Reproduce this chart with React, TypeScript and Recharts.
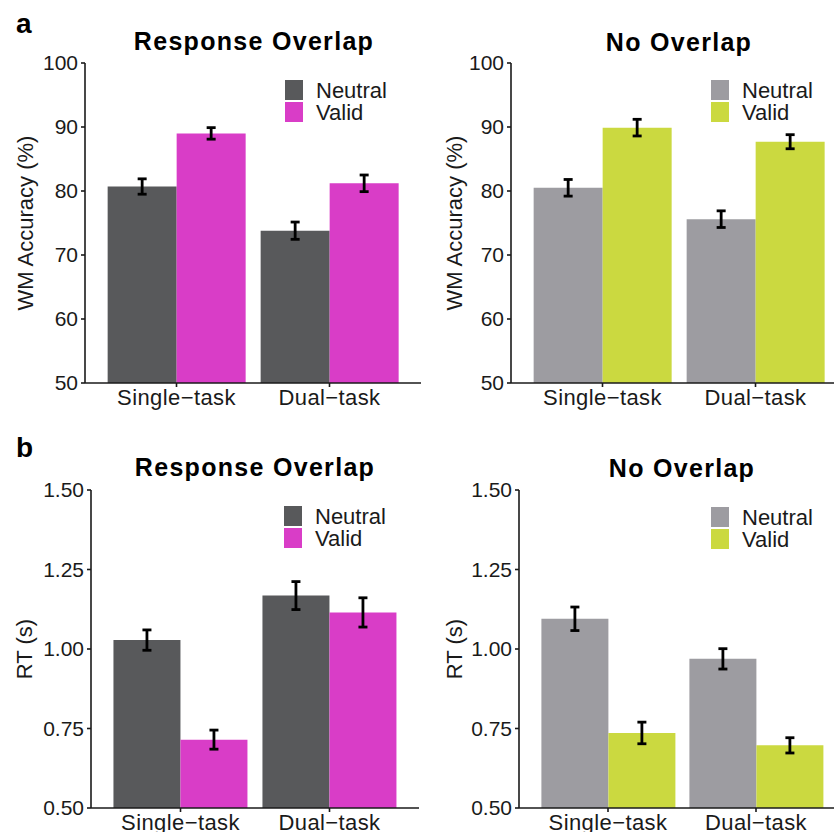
import { BarChart, Bar, XAxis, YAxis, ErrorBar } from 'recharts';

const categories = ['Single\u2212task', 'Dual\u2212task'];

// a: WM accuracy (%)
const accOverlapNeutral = [80.7, 73.8];
const accOverlapNeutralErr = [1.2, 1.35];
const accOverlapValid = [89.0, 81.2];
const accOverlapValidErr = [0.9, 1.3];

const accNoNeutral = [80.5, 75.6];
const accNoNeutralErr = [1.3, 1.3];
const accNoValid = [89.9, 87.7];
const accNoValidErr = [1.3, 1.1];

// b: RT (s)
const rtOverlapNeutral = [1.028, 1.168];
const rtOverlapNeutralErr = [0.032, 0.044];
const rtOverlapValid = [0.715, 1.115];
const rtOverlapValidErr = [0.03, 0.046];

const rtNoNeutral = [1.095, 0.969];
const rtNoNeutralErr = [0.037, 0.032];
const rtNoValid = [0.736, 0.697];
const rtNoValidErr = [0.034, 0.024];

const accTicks = [50, 60, 70, 80, 90, 100];
const rtTicks = [0.5, 0.75, 1.0, 1.25, 1.5];

const FONT = '"Liberation Sans", Arial, Helvetica, sans-serif';
const INK = '#1a1a1a';

const DARK_GREY = '#58595b';
const MAGENTA = '#d93dc7';
const LIGHT_GREY = '#9d9ca1';
const LIME = '#cbd940';

function rows(n: number[], ne: number[], v: number[], ve: number[]) {
  return categories.map((c, i) => ({
    name: c,
    neutral: n[i],
    neutralErr: ne[i],
    valid: v[i],
    validErr: ve[i],
  }));
}

interface PanelProps {
  data: ReturnType<typeof rows>;
  colors: [string, string];
  domain: [number, number];
  ticks: number[];
  fmt: (v: number) => string;
  yLabel: string;
  left: number;
  top: number;
  width: number;
  height: number;
  marginTop: number;
  yWidth: number;
  labelDx: number;
}

function Panel(p: PanelProps) {
  const axisStyle = { stroke: INK, strokeWidth: 1.6 };
  return (
    <div style={{ position: 'absolute', left: p.left, top: p.top }}>
      <BarChart
        width={p.width}
        height={p.height}
        data={p.data}
        margin={{ top: p.marginTop, right: 0, left: 0, bottom: 0 }}
        barCategoryGap="5%"
        barGap={0}
      >
        <XAxis
          dataKey="name"
          height={40}
          padding={{ left: 15, right: 15 }}
          axisLine={axisStyle}
          tickLine={axisStyle}
          tickSize={4}
          tickMargin={2}
          tick={{ fill: INK, fontSize: 22, fontFamily: FONT, letterSpacing: 0.4 }}
          interval={0}
        />
        <YAxis
          width={p.yWidth}
          domain={p.domain}
          ticks={p.ticks}
          allowDataOverflow
          tickFormatter={p.fmt}
          axisLine={axisStyle}
          tickLine={axisStyle}
          tickSize={4}
          tickMargin={3}
          tick={{ fill: INK, fontSize: 21, fontFamily: FONT }}
          label={{
            value: p.yLabel,
            angle: -90,
            position: 'center',
            dx: p.labelDx,
            style: { fill: INK, fontSize: 22, fontFamily: FONT, textAnchor: 'middle' },
          }}
        />
        <Bar dataKey="neutral" fill={p.colors[0]} isAnimationActive={false}>
          <ErrorBar dataKey="neutralErr" width={4.5} stroke="#000" strokeWidth={2.8} direction="y" isAnimationActive={false} />
        </Bar>
        <Bar dataKey="valid" fill={p.colors[1]} isAnimationActive={false}>
          <ErrorBar dataKey="validErr" width={4.5} stroke="#000" strokeWidth={2.8} direction="y" isAnimationActive={false} />
        </Bar>
      </BarChart>
    </div>
  );
}

function Key({ left, top, colors }: { left: number; top: number; colors: [string, string] }) {
  const items = [
    { label: 'Neutral', color: colors[0] },
    { label: 'Valid', color: colors[1] },
  ];
  return (
    <div style={{ position: 'absolute', left, top, fontFamily: FONT, fontSize: 22, color: INK }}>
      {items.map((it) => (
        <div key={it.label} style={{ display: 'flex', height: 22, lineHeight: '22px' }}>
          <div style={{ width: 18, height: 20, background: it.color, marginRight: 13 }} />
          <span>{it.label}</span>
        </div>
      ))}
    </div>
  );
}

const fmtAcc = (v: number) => String(v);
const fmtRt = (v: number) => v.toFixed(2);

export default function App() {
  const titleStyle = { fontFamily: FONT, fontWeight: 700, fontSize: 25, letterSpacing: 1.3, fill: '#000' };
  const tagStyle = { fontFamily: FONT, fontWeight: 700, fontSize: 28, fill: '#000' };
  return (
    <div
      style={{
        position: 'absolute',
        left: 0,
        top: 0,
        width: 834,
        height: 832,
        overflow: 'hidden',
        background: '#fff',
        fontFamily: FONT,
      }}
    >
      <Panel
        data={rows(accOverlapNeutral, accOverlapNeutralErr, accOverlapValid, accOverlapValidErr)}
        colors={[DARK_GREY, MAGENTA]}
        domain={[50, 100]}
        ticks={accTicks}
        fmt={fmtAcc}
        yLabel="WM Accuracy (%)"
        left={0}
        top={0}
        width={421}
        height={423}
        marginTop={63}
        yWidth={85}
        labelDx={-17.5}
      />
      <Panel
        data={rows(accNoNeutral, accNoNeutralErr, accNoValid, accNoValidErr)}
        colors={[LIGHT_GREY, LIME]}
        domain={[50, 100]}
        ticks={accTicks}
        fmt={fmtAcc}
        yLabel="WM Accuracy (%)"
        left={426}
        top={0}
        width={421}
        height={423}
        marginTop={63}
        yWidth={85}
        labelDx={-14.5}
      />
      <Panel
        data={rows(rtOverlapNeutral, rtOverlapNeutralErr, rtOverlapValid, rtOverlapValidErr)}
        colors={[DARK_GREY, MAGENTA]}
        domain={[0.5, 1.5]}
        ticks={rtTicks}
        fmt={fmtRt}
        yLabel="RT (s)"
        left={0}
        top={420}
        width={419}
        height={428}
        marginTop={70}
        yWidth={91}
        labelDx={-21.5}
      />
      <Panel
        data={rows(rtNoNeutral, rtNoNeutralErr, rtNoValid, rtNoValidErr)}
        colors={[LIGHT_GREY, LIME]}
        domain={[0.5, 1.5]}
        ticks={rtTicks}
        fmt={fmtRt}
        yLabel="RT (s)"
        left={428}
        top={420}
        width={417}
        height={428}
        marginTop={70}
        yWidth={91}
        labelDx={-19.5}
      />

      <Key left={285} top={80} colors={[DARK_GREY, MAGENTA]} />
      <Key left={711} top={80} colors={[LIGHT_GREY, LIME]} />
      <Key left={284} top={506} colors={[DARK_GREY, MAGENTA]} />
      <Key left={711} top={507} colors={[LIGHT_GREY, LIME]} />

      <svg width={834} height={832} style={{ position: 'absolute', left: 0, top: 0, pointerEvents: 'none' }}>
        <text x={16} y={32.5} style={tagStyle}>a</text>
        <text x={16} y={456.5} style={tagStyle}>b</text>
        <text x={254} y={49.5} textAnchor="middle" style={titleStyle}>Response Overlap</text>
        <text x={679} y={50.5} textAnchor="middle" style={titleStyle}>No Overlap</text>
        <text x={255} y={476} textAnchor="middle" style={titleStyle}>Response Overlap</text>
        <text x={682} y={477} textAnchor="middle" style={titleStyle}>No Overlap</text>
      </svg>
    </div>
  );
}
